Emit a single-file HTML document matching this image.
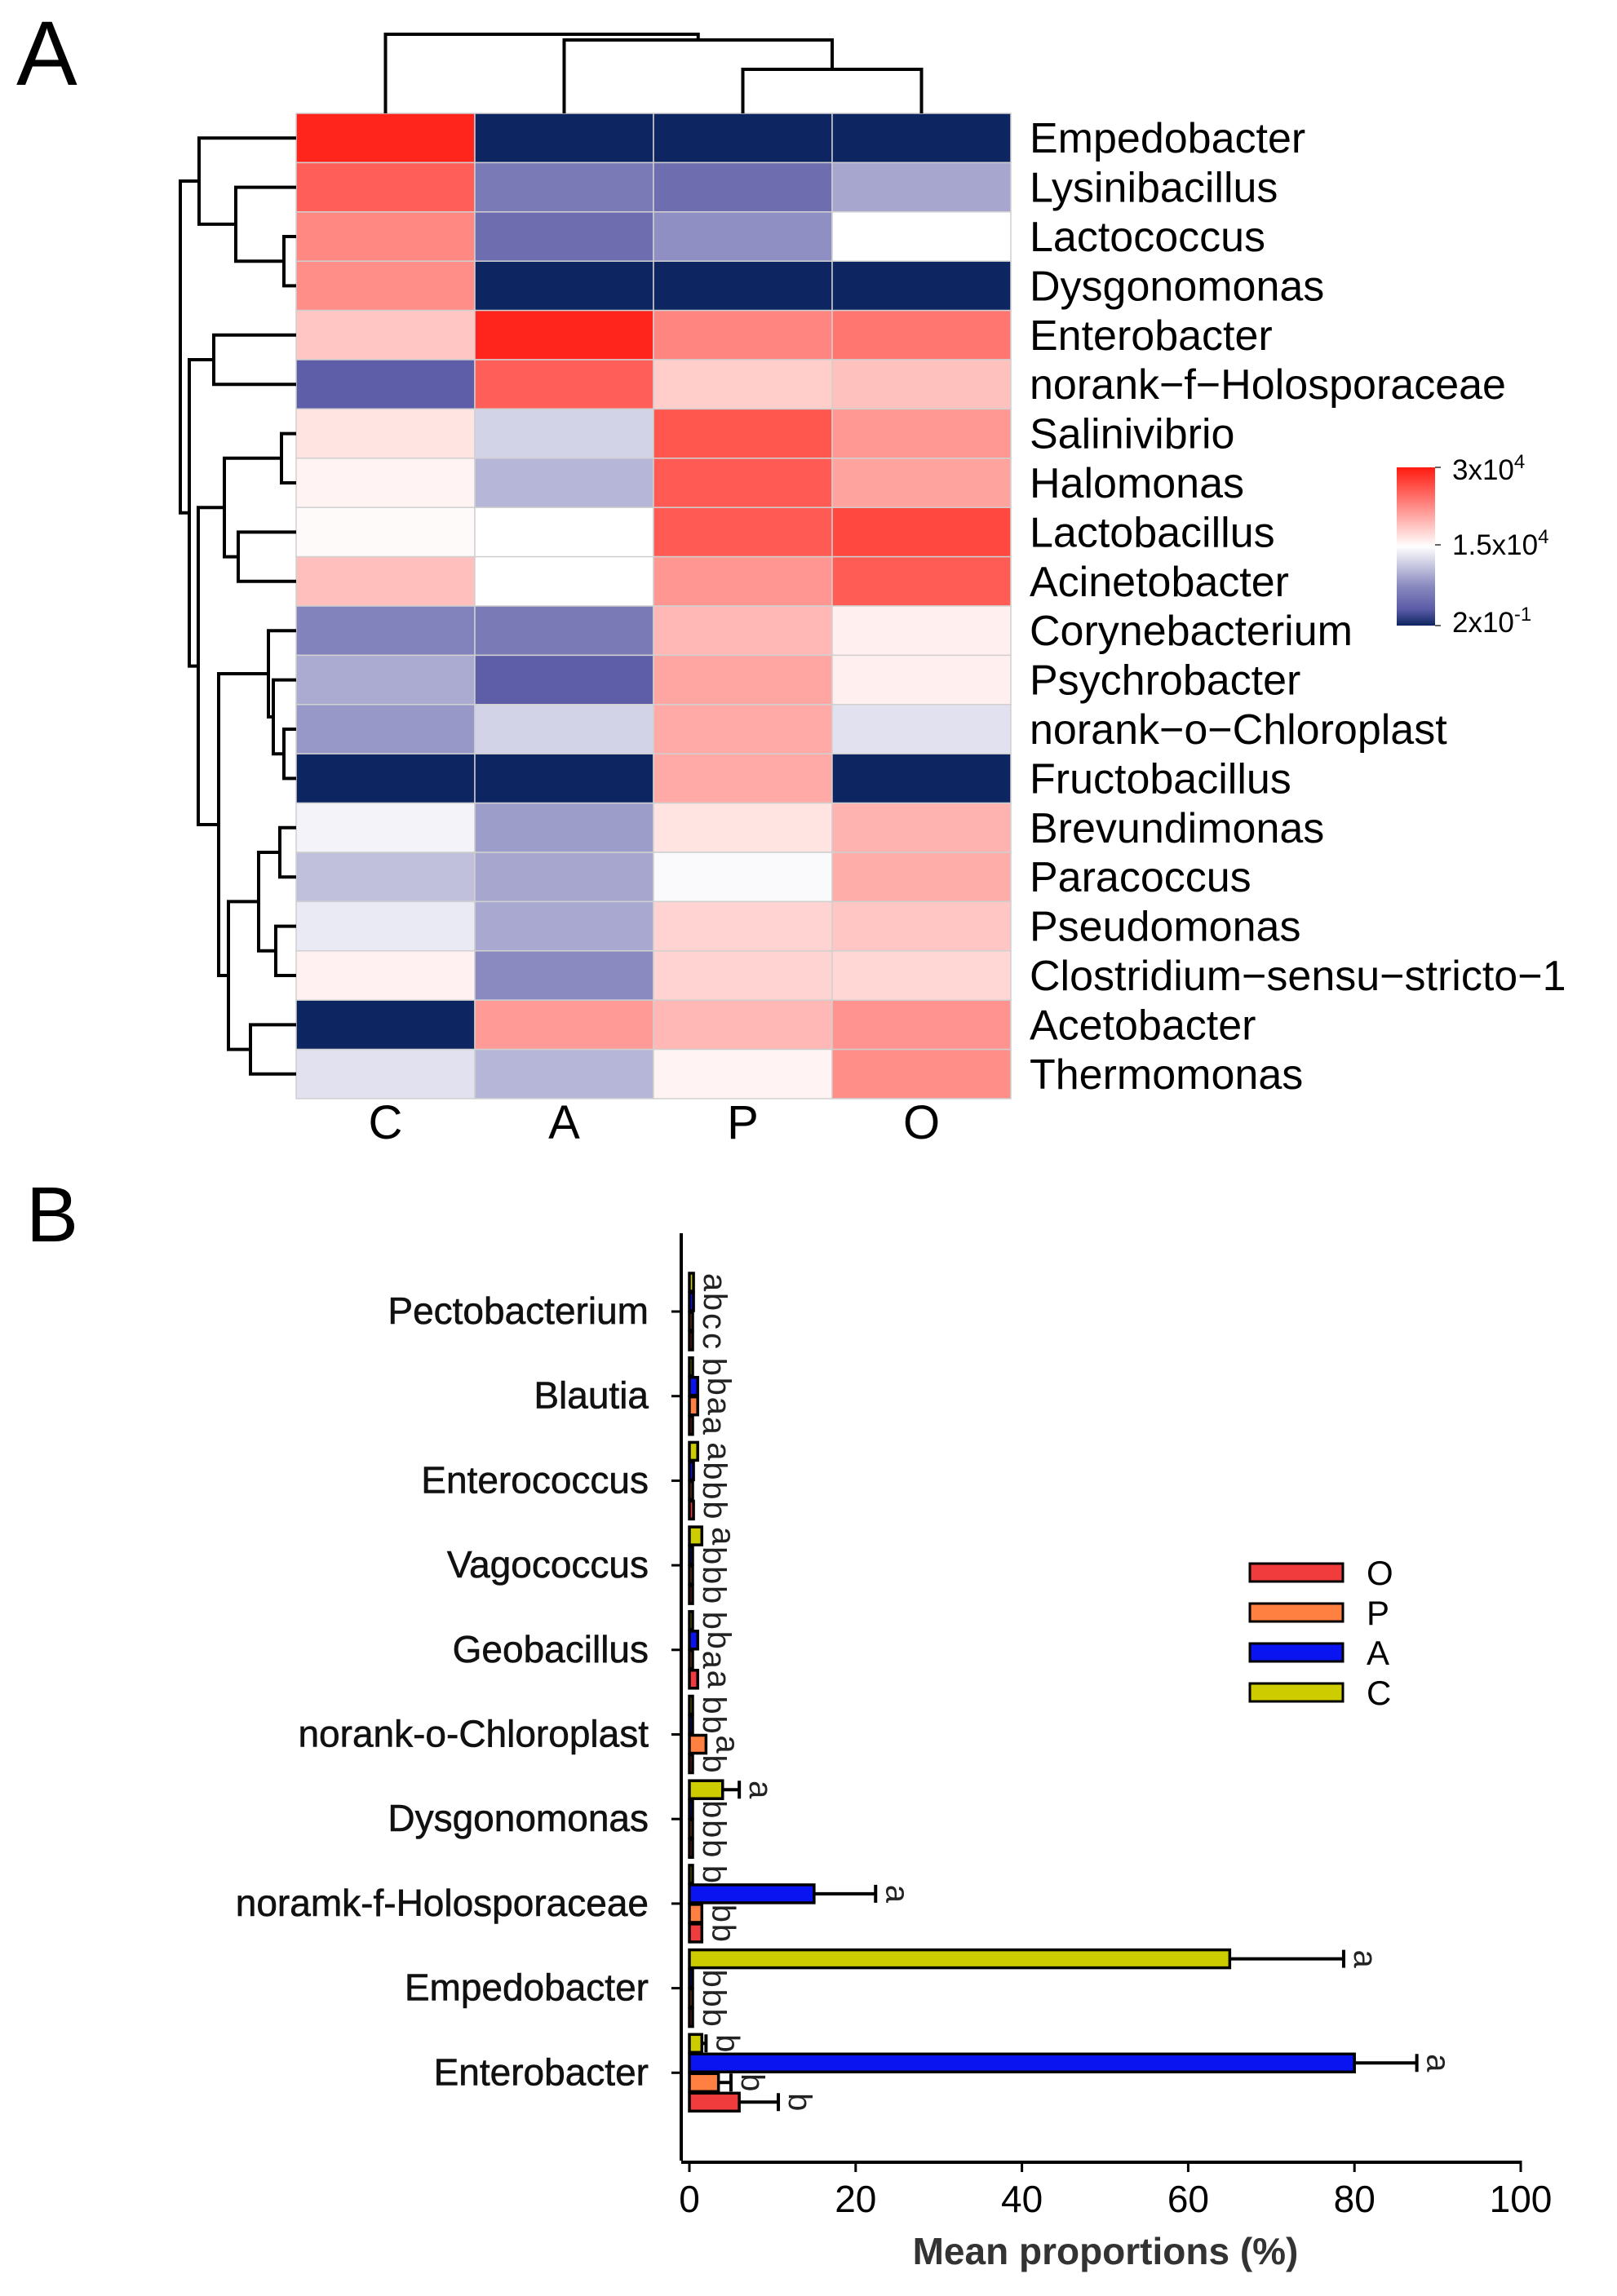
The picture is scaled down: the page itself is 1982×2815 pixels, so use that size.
<!DOCTYPE html>
<html><head><meta charset="utf-8"><style>html,body{margin:0;padding:0;background:#fff}svg{display:block}text{font-family:"Liberation Sans",Arial,sans-serif}</style></head>
<body>
<svg id="fig" width="1982" height="2815" viewBox="0 0 1982 2815" xmlns="http://www.w3.org/2000/svg">
<defs>
<linearGradient id="cbar" x1="0" y1="0" x2="0" y2="1">
<stop offset="0" stop-color="#ff1a10"/><stop offset="0.5" stop-color="#ffffff"/><stop offset="0.75" stop-color="#8a8ac0"/><stop offset="0.9" stop-color="#5a5aa6"/><stop offset="1" stop-color="#0d2560"/>
</linearGradient>
</defs>
<text x="20" y="104" font-size="112">A</text>
<text x="32" y="1522" font-size="96">B</text>
<g id="heat"></g>
<g id="dendro"></g>
<g>
<rect x="1712" y="573" width="47" height="194" fill="url(#cbar)"/>
<path d="M1759 573h7M1759 668h7M1759 767h7" stroke="#666" stroke-width="2"/>
<text x="1780" y="588" font-size="35">3x10<tspan dy="-14" font-size="24">4</tspan></text>
<text x="1780" y="680" font-size="35">1.5x10<tspan dy="-14" font-size="24">4</tspan></text>
<text x="1780" y="775" font-size="35">2x10<tspan dy="-14" font-size="24">-1</tspan></text>
</g>
<g id="bars"></g>
</svg>
<script>
const rowNames=["Empedobacter","Lysinibacillus","Lactococcus","Dysgonomonas","Enterobacter","norank\u2212f\u2212Holosporaceae","Salinivibrio","Halomonas","Lactobacillus","Acinetobacter","Corynebacterium","Psychrobacter","norank\u2212o\u2212Chloroplast","Fructobacillus","Brevundimonas","Paracoccus","Pseudomonas","Clostridium\u2212sensu\u2212stricto\u22121","Acetobacter","Thermomonas"];
const colNames=["C","A","P","O"];
const heatValues=[
[0.95,-1,-1,-1],[0.7,-0.6,-0.68,-0.38],[0.52,-0.68,-0.48,0],[0.5,-1,-1,-1],
[0.25,0.95,0.53,0.6],[-0.78,0.7,0.22,0.27],[0.12,-0.19,0.74,0.45],[0.05,-0.31,0.72,0.4],
[0.02,0,0.72,0.8],[0.28,0,0.46,0.71],[-0.55,-0.6,0.31,0.07],[-0.36,-0.78,0.39,0.07],
[-0.44,-0.19,0.37,-0.13],[-1,-1,0.37,-1],[-0.05,-0.42,0.12,0.33],[-0.27,-0.38,-0.02,0.36],
[-0.09,-0.37,0.19,0.25],[0.06,-0.5,0.19,0.17],[-1,0.44,0.31,0.47],[-0.13,-0.31,0.05,0.5]];
const barCats=["Pectobacterium","Blautia","Enterococcus","Vagococcus","Geobacillus","norank-o-Chloroplast","Dysgonomonas","noramk-f-Holosporaceae","Empedobacter","Enterobacter"];
const seriesNames=["C","A","P","O"];
const valC=[0.5,0.2,1,1.5,0.3,0.3,4,0,65,1.5];
const valA=[0.5,1,0.5,0.1,1,0.3,0,15,0,80];
const valP=[0.2,1,0.3,0.1,0.3,2,0,1.5,0,3.5];
const valO=[0.2,0.3,0.5,0.1,1,0.3,0,1.5,0,6];
const errC=[0,0,0,0,0,0,2,0,13.7,0.5];
const errA=[0,0,0,0,0,0,0,7.4,0,7.5];
const errP=[0,0,0,0,0,0,0,0,0,1.5];
const errO=[0,0,0,0,0,0,0,0,0,4.7];
const letters=[["a","b","c","c"],["b","b","a","a"],["a","b","b","b"],["a","b","b","b"],["b","b","a","a"],["b","b","a","b"],["a","b","b","b"],["b","a","b","b"],["a","b","b","b"],["b","a","b","b"]];
const xTicks=[0,20,40,60,80,100];

const NS="http://www.w3.org/2000/svg";
function mk(tag,attrs,parent){const e=document.createElementNS(NS,tag);for(const k in attrs)e.setAttribute(k,attrs[k]);parent.appendChild(e);return e;}
function hex(c){return [parseInt(c.slice(1,3),16),parseInt(c.slice(3,5),16),parseInt(c.slice(5,7),16)];}
function lerp(a,b,t){const A=hex(a),B=hex(b);return "rgb("+A.map((v,i)=>Math.round(v+(B[i]-v)*t)).join(",")+")";}
function colorOf(v){
 if(v>=0)return lerp("#ffffff","#ff1a10",Math.min(v,1));
 const t=-v;
 if(t<0.5)return lerp("#ffffff","#8a8ac0",t/0.5);
 if(t<0.8)return lerp("#8a8ac0","#5a5aa6",(t-0.5)/0.3);
 return lerp("#5a5aa6","#0d2560",(t-0.8)/0.2);
}
const HX=363,HY=139,CW=219,CH=60.4;
const heat=document.getElementById("heat");
heatValues.forEach((row,r)=>{row.forEach((v,c)=>{
 const el=mk("rect",{x:HX+c*CW,y:HY+r*CH,width:CW,height:CH,fill:colorOf(v),stroke:"#d0d0d0","stroke-width":1.5},heat);
 
 
});
 const t=mk("text",{x:1262,y:HY+r*CH+CH/2+18,"font-size":52},heat);t.textContent=rowNames[r];
 
 
});
colNames.forEach((n,c)=>{const t=mk("text",{x:HX+c*CW+CW/2,y:1396,"font-size":58,"text-anchor":"middle"},heat);t.textContent=n;
 
 });
const dg=document.getElementById("dendro");
function line(d){const p=mk("path",{d:d,stroke:"#000","stroke-width":4,fill:"none"},dg);}
const cx=c=>HX+c*CW+CW/2;
line(`M${cx(2)} ${HY}V85H${cx(3)}V${HY}`);
const po=(cx(2)+cx(3))/2;
line(`M${cx(1)} ${HY}V49H${po}V85`);
const apo=(cx(1)+po)/2;
line(`M${cx(0)} ${HY}V42H${apo}V49`);
const ry=r=>HY+r*CH+CH/2;
function leaf(r){return {x:HX,y:ry(r)};}
function node(x,a,b){line(`M${a.x} ${a.y}H${x}V${b.y}H${b.x}`);return {x:x,y:(a.y+b.y)/2};}
const n23=node(348,leaf(2),leaf(3));
const n13=node(289,leaf(1),n23);
const n03=node(244,leaf(0),n13);
const n45=node(262,leaf(4),leaf(5));
const n67=node(345,leaf(6),leaf(7));
const n89=node(292,leaf(8),leaf(9));
const n69=node(275,n67,n89);
const n1213=node(348,leaf(12),leaf(13));
const n1113=node(335,leaf(11),n1213);
const n1013=node(329,leaf(10),n1113);
const n1415=node(343,leaf(14),leaf(15));
const n1617=node(338,leaf(16),leaf(17));
const n1417=node(317,n1415,n1617);
const n1819=node(307,leaf(18),leaf(19));
const n1419=node(280,n1417,n1819);
const n1019=node(268,n1013,n1419);
const n619=node(243,n69,n1019);
const n419=node(232,n45,n619);
node(221,n03,n419);
const bg=document.getElementById("bars");
const X0=845,X100=1864,AXY=2649,YAX=835;
const xs=v=>X0+(X100-X0)*v/100;
const catY=i=>1608+i*103.7;
mk("path",{d:`M${YAX} 1512V${AXY}`,stroke:"#000","stroke-width":4},bg);
mk("path",{d:`M${YAX} ${AXY+2}H${X100}`,stroke:"#000","stroke-width":4},bg);
xTicks.forEach(t=>{
 mk("path",{d:`M${xs(t)} ${AXY}v14`,stroke:"#000","stroke-width":3},bg);
 const tx=mk("text",{x:xs(t),y:2712,"font-size":46,"text-anchor":"middle"},bg);tx.textContent=t;
 
 
});
const xt=mk("text",{x:1355,y:2776,"font-size":46,"text-anchor":"middle","font-weight":"bold",fill:"#333"},bg);xt.textContent="Mean proportions (%)";


const cols={C:"#cccc00",A:"#0a14f0",P:"#ff8040",O:"#f03c3c"};
const vals={C:valC,A:valA,P:valP,O:valO};
const errs={C:errC,A:errA,P:errP,O:errO};
barCats.forEach((cat,i)=>{
 const cy=catY(i);
 mk("path",{d:`M${YAX-12} ${cy}H${YAX}`,stroke:"#000","stroke-width":3},bg);
 const lb=mk("text",{x:795,y:cy+15,"font-size":46,"text-anchor":"end",fill:"#111",stroke:"#111","stroke-width":0.6},bg);lb.textContent=cat;
 
 
 seriesNames.forEach((s,k)=>{
  const y=cy-36+k*24, v=vals[s][i], e=errs[s][i];
  const w=Math.max(xs(v)-X0,4);
  const r=mk("rect",{x:X0,y:y-11,width:w,height:22,fill:cols[s],stroke:"#000","stroke-width":3.5},bg);
  
  
  let end=X0+w;
  if(e>0){const ex=xs(v+e);mk("path",{d:`M${X0+w} ${y}H${ex}M${ex} ${y-11}V${y+11}`,stroke:"#000","stroke-width":4},bg);end=ex;}
  const lx=end+26;
  const lt=mk("text",{x:lx,y:y,"font-size":40,"text-anchor":"middle",transform:`rotate(90 ${lx} ${y})`,"dominant-baseline":"central",fill:"#222"},bg);lt.textContent=letters[i][k];
  
  
 });
});
const legOrder=["O","P","A","C"];
legOrder.forEach((s,k)=>{
 const y=1928+k*49;
 const r=mk("rect",{x:1532,y:y-11,width:114,height:22,fill:cols[s],stroke:"#000","stroke-width":3},bg);
 
 
 const t=mk("text",{x:1675,y:y+15,"font-size":42},bg);t.textContent=s;
 
 
});
</script>
</body></html>
